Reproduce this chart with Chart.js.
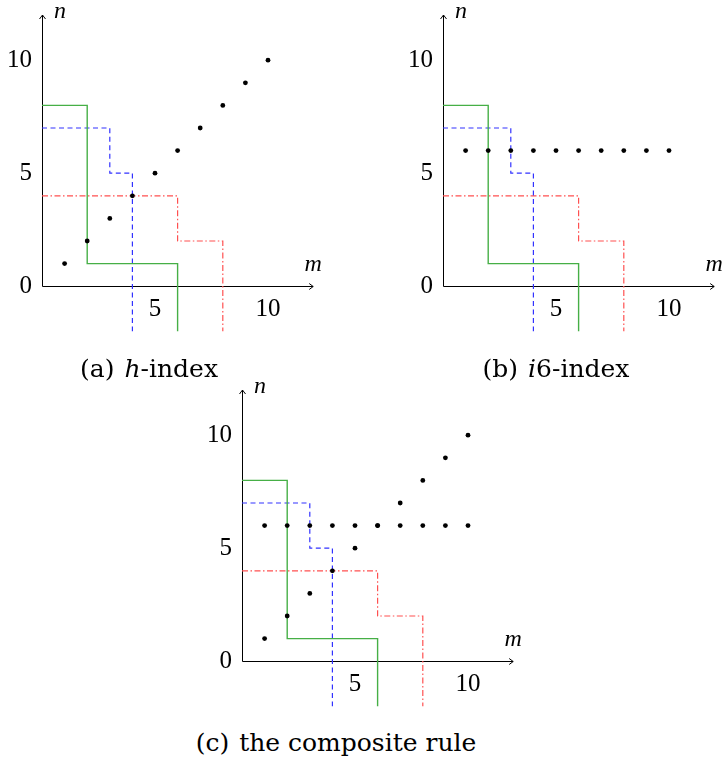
<!DOCTYPE html>
<html>
<head>
<meta charset="utf-8">
<script src="https://cdn.jsdelivr.net/npm/chart.js@4.4.1/dist/chart.umd.min.js"></script>
<style>
  html, body { margin: 0; padding: 0; background: #fff; overflow: hidden; }
  #fig { position: relative; width: 724px; height: 763px; overflow: hidden; background: #fff; }
  canvas { position: absolute; }
  .cap {
    position: absolute;
    font-family: "DejaVu Serif", serif;
    font-size: 25px;
    line-height: 30px;
    white-space: nowrap;
    transform: translateX(-50%);
    color: #000;
  }
  .cap .gap { margin-left: 10px; }
</style>
</head>
<body>
<div id="fig">
  <canvas id="chartA"></canvas>
  <canvas id="chartB"></canvas>
  <canvas id="chartC"></canvas>
  <div class="cap" style="left:149px; top:354px">(a)<span class="gap"><i>h</i>-index</span></div>
  <div class="cap" style="left:556px; top:354px">(b)<span class="gap"><i>i</i>6-index</span></div>
  <div class="cap" style="left:336px; top:728px">(c)<span class="gap">the composite rule</span></div>
</div>
<script>
// publications m = 1..10
const mValues = [1, 2, 3, 4, 5, 6, 7, 8, 9, 10];
// citations n for each rule
const hIndexN = [1, 2, 3, 4, 5, 6, 7, 8, 9, 10];
const i6IndexN = [6, 6, 6, 6, 6, 6, 6, 6, 6, 6];

// staircase boundaries (corner points, drawn with stepped lines)
const greenM = [0, 2, 6];
const greenN = [8, 1, -2];
const blueM = [0, 3, 4];
const blueN = [7, 5, -2];
const redM = [0, 6, 8];
const redN = [4, 2, -2];

// tick labels
const yTicks = [0, 5, 10];
const xTicks = [5, 10];
const axisMin = -2;
const axisMax = 12;

const unit = 22.6;
const serif = '"Liberation Serif", serif';

function pts(xs, ys) {
  return xs.map((x, i) => ({ x: x, y: ys[i] }));
}

function dots(ys) {
  return {
    data: pts(mValues, ys),
    showLine: false,
    pointRadius: 2.4,
    pointBorderWidth: 0,
    pointBackgroundColor: "#000",
  };
}

function step(xs, ys, color, dash, width) {
  return {
    data: pts(xs, ys),
    showLine: true,
    stepped: "before",
    fill: false,
    pointRadius: 0,
    borderColor: color,
    borderDash: dash,
    borderWidth: width,
  };
}

const axesPlugin = {
  id: "axes",
  beforeDatasetsDraw(chart) {
    const { ctx, scales: { x, y } } = chart;
    const x0 = Math.round(x.getPixelForValue(0)) + 0.5;
    const y0 = Math.round(y.getPixelForValue(0)) + 0.5;
    const xEnd = x.getPixelForValue(axisMax);
    const yEnd = y.getPixelForValue(axisMax);
    ctx.save();
    ctx.strokeStyle = "#000";
    ctx.lineWidth = 1;
    ctx.beginPath();
    ctx.moveTo(x0, y0);
    ctx.lineTo(xEnd, y0);
    ctx.moveTo(xEnd - 4, y0 - 3);
    ctx.lineTo(xEnd, y0);
    ctx.lineTo(xEnd - 4, y0 + 3);
    ctx.moveTo(x0, y0);
    ctx.lineTo(x0, yEnd);
    ctx.moveTo(x0 - 3, yEnd + 4);
    ctx.lineTo(x0, yEnd);
    ctx.lineTo(x0 + 3, yEnd + 4);
    ctx.stroke();
    ctx.restore();
  },
  afterDraw(chart) {
    const { ctx, scales: { x, y } } = chart;
    const x0 = x.getPixelForValue(0);
    const y0 = y.getPixelForValue(0);
    const xEnd = x.getPixelForValue(axisMax);
    const yEnd = y.getPixelForValue(axisMax);
    ctx.save();
    ctx.fillStyle = "#000";
    ctx.font = "italic 24px " + serif;
    ctx.textBaseline = "middle";
    ctx.textAlign = "left";
    ctx.fillText("n", x0 + 12, yEnd - 3);
    ctx.textAlign = "center";
    ctx.fillText("m", xEnd, y0 - 22);
    ctx.restore();
  },
};

function makeScales() {
  const tickFont = { family: serif, size: 25 };
  return {
    x: {
      type: "linear",
      min: 0,
      max: axisMax,
      position: { y: 0 },
      grid: { display: false, drawTicks: false },
      border: { display: false },
      afterBuildTicks: (s) => { s.ticks = xTicks.map((v) => ({ value: v })); },
      afterFit: (s) => { s.paddingLeft = 0; s.paddingRight = 0; },
      ticks: { autoSkip: false, padding: 8, color: "#000", font: tickFont },
    },
    y: {
      type: "linear",
      min: axisMin,
      max: axisMax,
      position: "left",
      grid: { display: false, drawTicks: false },
      border: { display: false },
      afterBuildTicks: (s) => { s.ticks = yTicks.map((v) => ({ value: v })); },
      afterFit: (s) => { s.width = 42; s.paddingTop = 0; s.paddingBottom = 0; },
      ticks: { autoSkip: false, padding: 10, color: "#000", font: tickFont },
    },
  };
}

function makeChart(id, left, top, dotSets) {
  const cv = document.getElementById(id);
  const w = 334;
  const h = 336;
  cv.width = w;
  cv.height = h;
  cv.style.left = left + "px";
  cv.style.top = top + "px";

  const datasets = dotSets.map(dots).concat([
    step(greenM, greenN, "rgb(70,175,70)", [], 1.4),
    step(blueM, blueN, "rgb(50,50,255)", [5, 3.5], 1.2),
    step(redM, redN, "rgb(255,80,80)", [6, 2.5, 1.5, 2.5], 1.2),
  ]);

  new Chart(cv, {
    type: "scatter",
    data: { datasets: datasets },
    options: {
      responsive: false,
      animation: false,
      events: [],
      layout: {
        padding: {
          left: 0,
          top: 15,
          right: w - 42 - 12 * unit,
          bottom: h - 15 - 14 * unit,
        },
      },
      plugins: { legend: { display: false }, tooltip: { enabled: false } },
      scales: makeScales(),
    },
    plugins: [axesPlugin],
  });
}

makeChart("chartA", 0, 0, [hIndexN]);
makeChart("chartB", 401, 0, [i6IndexN]);
makeChart("chartC", 200, 375, [hIndexN, i6IndexN]);
</script>
</body>
</html>
